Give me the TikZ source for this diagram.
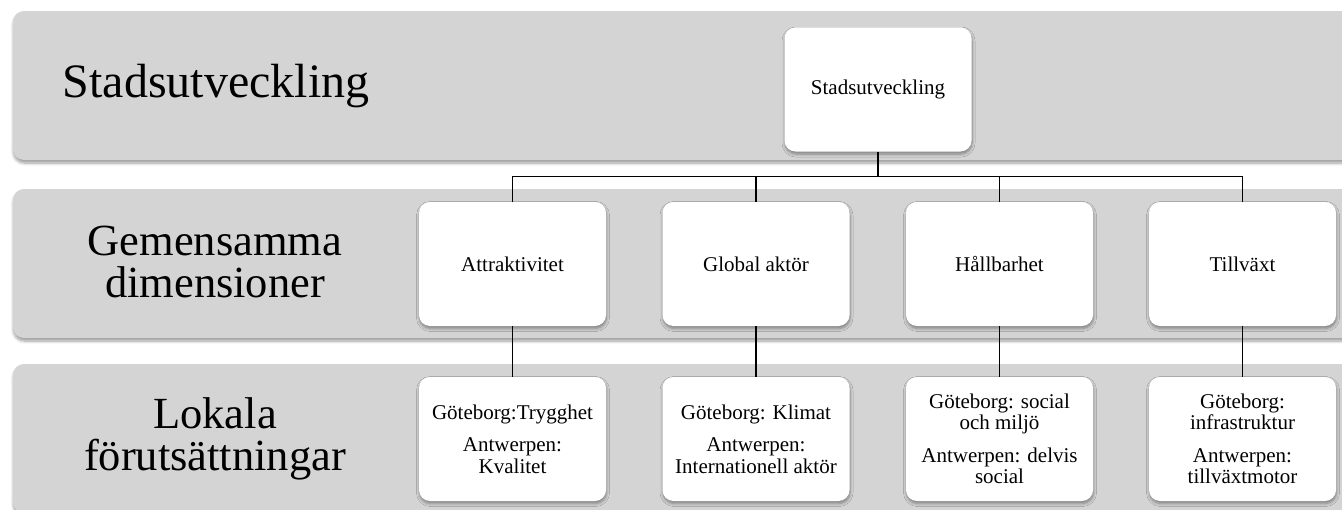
\documentclass[tikz,border=0pt]{standalone}
\usepackage{fontspec}
\setmainfont{Liberation Serif}
\usetikzlibrary{shadows.blur}
\definecolor{bandgray}{HTML}{D4D4D4}
\begin{document}
\begin{tikzpicture}[x=1pt,y=-1pt,
  band/.style={fill=bandgray, rounded corners=11pt,
    blur shadow={shadow xshift=0.5pt, shadow yshift=-3pt, shadow blur steps=6, shadow blur radius=3pt, shadow opacity=40}},
  box/.style={fill=white, rounded corners=11pt, minimum width=187pt, minimum height=124pt,
    inner sep=3pt, align=center, font=\fontsize{21}{21.5}\selectfont,
    blur shadow={shadow xshift=0.5pt, shadow yshift=-2.5pt, shadow blur steps=6, shadow blur radius=3pt, shadow opacity=40}},
  lbl/.style={align=center, font=\fontsize{48}{43}\selectfont},
  lbls/.style={align=center, font=\fontsize{44.5}{42.5}\selectfont},
  conn/.style={line width=1.8pt, draw=black}]
\useasboundingbox (0,0) rectangle (1342,509);
\clip (0,0) rectangle (1342,509);
% bands
\path[band] (13,11) rectangle (1390,160);
\path[band] (13,189) rectangle (1390,338);
\path[band] (13,364) rectangle (1390,513);
% band labels
\node[lbl] (l1) at (216,86) {Stadsutveckling};
\node[lbls] (l2) at (215,262) {Gemensamma\\dimensioner};
\node[lbls] (l3) at (215,439) {Lokala\\förutsättningar};
% connectors
\coordinate (hub) at (878,176.5);
% nodes
\node[box] (top) at (878,89.5) {Stadsutveckling};
\node[box] (d1) at (512.5,264) {Attraktivitet};
\node[box] (d2) at (756,264) {Global aktör};
\node[box] (d3) at (999.5,264) {Hållbarhet};
\node[box] (d4) at (1242.5,264) {Tillväxt};
\node[box] (g1) at (512.5,439) {Göteborg:Trygghet\\[11pt]Antwerpen:\\Kvalitet};
\node[box] (g2) at (756,439) {Göteborg: Klimat\\[11pt]Antwerpen:\\Internationell aktör};
\node[box] (g3) at (999.5,439) {Göteborg: social\\och miljö\\[11pt]Antwerpen: delvis\\social};
\node[box] (g4) at (1242.5,439) {Göteborg:\\infrastruktur\\[11pt]Antwerpen:\\tillväxtmotor};
\draw[conn] (top.south) -- (hub);
\draw[conn] (hub) -| (d1.north);
\draw[conn] (hub) -| (d2.north);
\draw[conn] (hub) -| (d3.north);
\draw[conn] (hub) -| (d4.north);
\draw[conn] (d1.south) -- (g1.north);
\draw[conn] (d2.south) -- (g2.north);
\draw[conn] (d3.south) -- (g3.north);
\draw[conn] (d4.south) -- (g4.north);
\end{tikzpicture}
\end{document}
